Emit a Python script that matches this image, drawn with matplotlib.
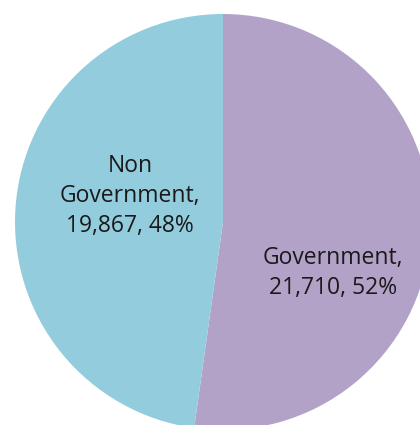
import matplotlib.pyplot as plt

# Data
categories = ['Government', 'Non\nGovernment']
values = [21710, 19867]
colors = ['#B3A2C7', '#93CDDD']

total = sum(values)
labels = ['{},\n{:,}, {:.0f}%'.format(c, v, 100.0 * v / total) for c, v in zip(categories, values)]

fig = plt.figure(figsize=(4.2, 4.25), dpi=100)
ax = fig.add_axes([0, 0, 1, 1])

ax.pie(values, colors=colors, startangle=90, counterclock=False, radius=1.0,
       wedgeprops=dict(linewidth=0))

# label positions (data coords, pie radius = 1)
label_pos = [(0.529, -0.245), (-0.447, 0.125)]
for (x, y), lab in zip(label_pos, labels):
    ax.text(x, y, lab, ha='center', va='center', fontsize=16.5,
            family='Open Sans', color='#1a1a1a', linespacing=1.33)

ax.set_xlim(-223 / 208, (420 - 223) / 208)
ax.set_ylim(-(425 - 222) / 208, 222 / 208)
ax.set_aspect('auto')
ax.axis('off')

fig.savefig('out.png', dpi=100)
